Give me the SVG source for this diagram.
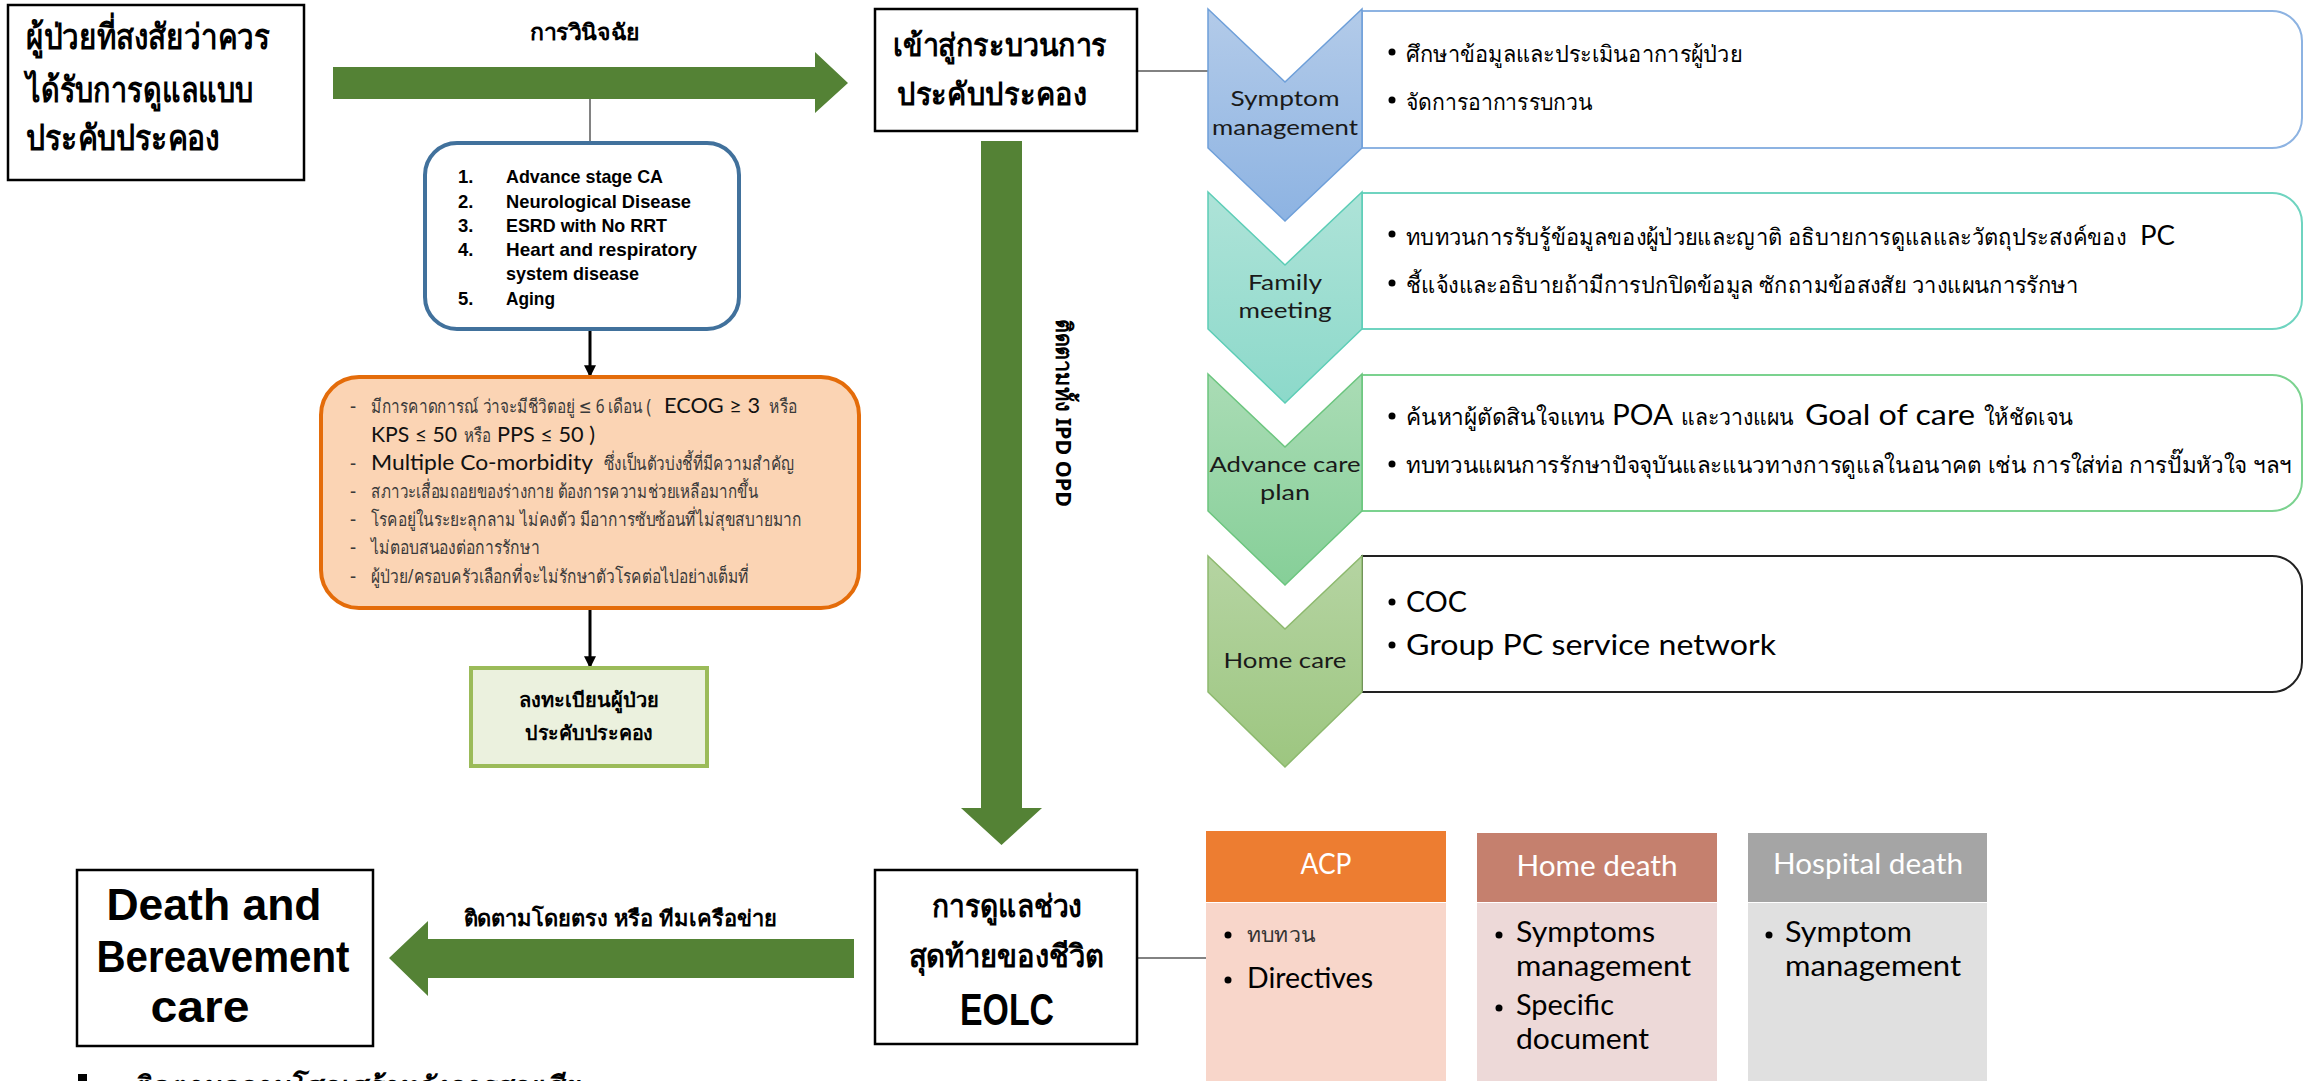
<svg xmlns="http://www.w3.org/2000/svg" width="2315" height="1081" viewBox="0 0 2315 1081">
<style>
.th{font-family:"Noto Sans","DejaVu Sans",sans-serif}
.en{font-family:"Liberation Sans Narrow","Liberation Sans",sans-serif}
.ui{font-family:Lato,"Open Sans",sans-serif}
.b{font-weight:bold}
.box{fill:#fff;stroke:#000;stroke-width:2.5}
.conn{stroke:#595959;stroke-width:1.5;fill:none}
.green{fill:#548235}
.blk{stroke:#000;stroke-width:3;fill:none}
.grey{fill:#3A3A3A}
.lbl{font-family:Lato,"Open Sans",sans-serif;font-size:22px;fill:#1a1a1a;text-anchor:middle}
</style>
<defs>
<marker id="ah" viewBox="0 0 10 10" refX="9" refY="5" markerWidth="4" markerHeight="4" orient="auto"><path d="M0,0 L10,5 L0,10 z" fill="#000"/></marker>
<linearGradient id="g1" x1="0" y1="0" x2="0" y2="1"><stop offset="0" stop-color="#B3CBE9"/><stop offset="1" stop-color="#8DB3E2"/></linearGradient>
<linearGradient id="g2" x1="0" y1="0" x2="0" y2="1"><stop offset="0" stop-color="#AEE3D8"/><stop offset="1" stop-color="#8CD9CA"/></linearGradient>
<linearGradient id="g3" x1="0" y1="0" x2="0" y2="1"><stop offset="0" stop-color="#AADCB5"/><stop offset="1" stop-color="#86CF98"/></linearGradient>
<linearGradient id="g4" x1="0" y1="0" x2="0" y2="1"><stop offset="0" stop-color="#B5D4A2"/><stop offset="1" stop-color="#9DC680"/></linearGradient>
</defs>

<g id="connectors">
<polygon class="green" points="333,67 815,67 815,52 848,83 815,113 815,99 333,99"/>
<polygon class="green" points="981,141 1022,141 1022,808 1042,808 1001.5,845 961,808 981,808"/>
<polygon class="green" points="854,939 428,939 428,921 389,958 428,996 428,978 854,978"/>
<line class="conn" x1="590" y1="99" x2="590" y2="143"/>
<line class="conn" x1="1137" y1="71" x2="1208" y2="71"/>
<line class="conn" x1="1137" y1="958" x2="1206" y2="958"/>
<line class="blk" x1="590" y1="330" x2="590" y2="376" marker-end="url(#ah)"/>
<line class="blk" x1="590" y1="609" x2="590" y2="667" marker-end="url(#ah)"/>
<text class="th b" x="585" y="40" font-size="22" text-anchor="middle" textLength="110" lengthAdjust="spacingAndGlyphs">การวินิจฉัย</text>
<text class="th b" x="620" y="926" font-size="22" text-anchor="middle" textLength="313" lengthAdjust="spacingAndGlyphs">ติดตามโดยตรง หรือ ทีมเครือข่าย</text>
<text class="th b" transform="translate(1056,413) rotate(90)" font-size="22" text-anchor="middle" textLength="188" lengthAdjust="spacingAndGlyphs">ติดตามทั้ง IPD OPD</text>
</g>

<g id="start">
<rect class="box" x="8" y="5" width="296" height="175"/>
<text class="th b" font-size="35" x="26" y="49" textLength="244" lengthAdjust="spacingAndGlyphs">ผู้ป่วยที่สงสัยว่าควร</text>
<text class="th b" font-size="35" x="26" y="102" textLength="227" lengthAdjust="spacingAndGlyphs">ได้รับการดูแลแบบ</text>
<text class="th b" font-size="35" x="26" y="150" textLength="194" lengthAdjust="spacingAndGlyphs">ประคับประคอง</text>
</g>

<g id="diseases">
<rect x="425" y="143" width="314" height="186" rx="32" fill="#fff" stroke="#41719C" stroke-width="4"/>
<g class="en b" font-size="18.5">
<text x="458" y="183">1.</text><text x="506" y="183" textLength="157" lengthAdjust="spacingAndGlyphs">Advance stage CA</text>
<text x="458" y="208">2.</text><text x="506" y="208" textLength="185" lengthAdjust="spacingAndGlyphs">Neurological  Disease</text>
<text x="458" y="232">3.</text><text x="506" y="232" textLength="161" lengthAdjust="spacingAndGlyphs">ESRD with No RRT</text>
<text x="458" y="256">4.</text><text x="506" y="256" textLength="191" lengthAdjust="spacingAndGlyphs">Heart and  respiratory</text>
<text x="506" y="280" textLength="133" lengthAdjust="spacingAndGlyphs">system disease</text>
<text x="458" y="305">5.</text><text x="506" y="305" textLength="49" lengthAdjust="spacingAndGlyphs">Aging</text>
</g>
</g>

<g id="criteria">
<rect x="321" y="377" width="538" height="231" rx="38" fill="#FBD4B4" stroke="#E46C0A" stroke-width="4"/>
<g class="th grey" font-size="19">
<text x="350" y="413">-</text>
<text x="371" y="413" textLength="280" lengthAdjust="spacingAndGlyphs">มีการคาดการณ์ ว่าจะมีชีวิตอยู่ ≤  6 เดือน (</text>
<text x="769" y="413" textLength="28" lengthAdjust="spacingAndGlyphs">หรือ</text>
<text x="464" y="442" textLength="27" lengthAdjust="spacingAndGlyphs">หรือ</text>
<text x="350" y="470">-</text>
<text x="604" y="470" textLength="190" lengthAdjust="spacingAndGlyphs">ซึ่งเป็นตัวบ่งชี้ที่มีความสำคัญ</text>
<text x="350" y="498">-</text>
<text x="371" y="498" textLength="387" lengthAdjust="spacingAndGlyphs">สภาวะเสื่อมถอยของร่างกาย ต้องการความช่วยเหลือมากขึ้น</text>
<text x="350" y="526">-</text>
<text x="371" y="526" textLength="431" lengthAdjust="spacingAndGlyphs">โรคอยู่ในระยะลุกลาม ไม่คงตัว มีอาการซับซ้อนที่ไม่สุขสบายมาก</text>
<text x="350" y="554">-</text>
<text x="371" y="554" textLength="169" lengthAdjust="spacingAndGlyphs">ไม่ตอบสนองต่อการรักษา</text>
<text x="350" y="583">-</text>
<text x="371" y="583" textLength="378" lengthAdjust="spacingAndGlyphs">ผู้ป่วย/ครอบครัวเลือกที่จะไม่รักษาตัวโรคต่อไปอย่างเต็มที่</text>
</g>
<g class="ui" font-size="22" fill="#111">
<text x="664" y="413" textLength="96" lengthAdjust="spacingAndGlyphs">ECOG  ≥ 3</text>
<text x="371" y="442" textLength="86" lengthAdjust="spacingAndGlyphs">KPS ≤ 50</text>
<text x="497" y="442" textLength="98" lengthAdjust="spacingAndGlyphs">PPS ≤ 50 )</text>
<text x="371" y="470" textLength="222" lengthAdjust="spacingAndGlyphs">Multiple Co-morbidity</text>
</g>
</g>

<g id="register">
<rect x="471" y="668" width="236" height="98" fill="#EBF1DE" stroke="#9BBB59" stroke-width="4"/>
<text class="th b" x="589" y="707" font-size="20" text-anchor="middle" textLength="140" lengthAdjust="spacingAndGlyphs">ลงทะเบียนผู้ป่วย</text>
<text class="th b" x="589" y="740" font-size="20" text-anchor="middle" textLength="128" lengthAdjust="spacingAndGlyphs">ประคับประคอง</text>
</g>

<g id="enter">
<rect class="box" x="875" y="9" width="262" height="122"/>
<text class="th b" font-size="31" x="893" y="56" textLength="214" lengthAdjust="spacingAndGlyphs">เข้าสู่กระบวนการ</text>
<text class="th b" font-size="31" x="897" y="105" textLength="190" lengthAdjust="spacingAndGlyphs">ประคับประคอง</text>
</g>

<g id="eolc">
<rect class="box" x="875" y="870" width="262" height="174"/>
<text class="th b" font-size="31" x="1007" y="917" text-anchor="middle" textLength="150" lengthAdjust="spacingAndGlyphs">การดูแลช่วง</text>
<text class="th b" font-size="31" x="1006" y="967" text-anchor="middle" textLength="195" lengthAdjust="spacingAndGlyphs">สุดท้ายของชีวิต</text>
<text class="en b" font-size="44" x="1007" y="1025" text-anchor="middle" textLength="94" lengthAdjust="spacingAndGlyphs">EOLC</text>
</g>

<g id="death">
<rect class="box" x="77" y="870" width="296" height="176"/>
<g class="en b" font-size="45" text-anchor="middle">
<text x="214" y="920" textLength="215" lengthAdjust="spacingAndGlyphs">Death and</text>
<text x="223" y="972" textLength="253" lengthAdjust="spacingAndGlyphs">Bereavement</text>
<text x="200" y="1022" textLength="99" lengthAdjust="spacingAndGlyphs">care</text>
</g>
</g>

<g id="bereavement-note">
<rect x="78" y="1074" width="9" height="12" fill="#000"/>
<text class="th b" x="131" y="1096" font-size="28" font-style="italic" text-decoration="underline">ติดตามความโศกเศร้าหลังการสูญเสีย</text>
</g>

<g id="symptom">
<path d="M1362,11 H2272 A30,30 0 0 1 2302,41 V118 A30,30 0 0 1 2272,148 H1362 Z" fill="#fff" stroke="#8DB3E2" stroke-width="2"/>
<path d="M1208,9 L1285,82 L1362,9 V148 L1285,221 L1208,148 Z" fill="url(#g1)" stroke="#6E9FD9" stroke-width="1.5"/>
<text class="lbl" x="1285" y="106" textLength="109" lengthAdjust="spacingAndGlyphs">Symptom</text>
<text class="lbl" x="1285" y="135" textLength="146" lengthAdjust="spacingAndGlyphs">management</text>
<circle cx="1392" cy="52" r="3.5" fill="#000"/>
<text class="th" x="1406" y="62" font-size="23" textLength="336" lengthAdjust="spacingAndGlyphs">ศึกษาข้อมูลและประเมินอาการผู้ป่วย</text>
<circle cx="1392" cy="100" r="3.5" fill="#000"/>
<text class="th" x="1406" y="110" font-size="23" textLength="187" lengthAdjust="spacingAndGlyphs">จัดการอาการรบกวน</text>
</g>

<g id="family">
<path d="M1362,193 H2272 A30,30 0 0 1 2302,223 V299 A30,30 0 0 1 2272,329 H1362 Z" fill="#fff" stroke="#6FD4C0" stroke-width="2"/>
<path d="M1208,192 L1285,265 L1362,192 V329 L1285,403 L1208,329 Z" fill="url(#g2)" stroke="#5CCDB6" stroke-width="1.5"/>
<text class="lbl" x="1285" y="290" textLength="74" lengthAdjust="spacingAndGlyphs">Family</text>
<text class="lbl" x="1285" y="318" textLength="93" lengthAdjust="spacingAndGlyphs">meeting</text>
<circle cx="1392" cy="234" r="3.5" fill="#000"/>
<text class="th" x="1406" y="245" font-size="23" textLength="720" lengthAdjust="spacingAndGlyphs">ทบทวนการรับรู้ข้อมูลของผู้ป่วยและญาติ  อธิบายการดูแลและวัตถุประสงค์ของ</text>
<text class="ui" x="2140" y="245" font-size="27" textLength="35" lengthAdjust="spacingAndGlyphs">PC</text>
<circle cx="1392" cy="283" r="3.5" fill="#000"/>
<text class="th" x="1406" y="293" font-size="23" textLength="672" lengthAdjust="spacingAndGlyphs">ชี้แจ้งและอธิบายถ้ามีการปกปิดข้อมูล  ซักถามข้อสงสัย  วางแผนการรักษา</text>
</g>

<g id="acp-plan">
<path d="M1362,375 H2272 A30,30 0 0 1 2302,405 V481 A30,30 0 0 1 2272,511 H1362 Z" fill="#fff" stroke="#7BD28F" stroke-width="2"/>
<path d="M1208,374 L1285,447 L1362,374 V511 L1285,585 L1208,511 Z" fill="url(#g3)" stroke="#6BC57E" stroke-width="1.5"/>
<text class="lbl" x="1285" y="472" textLength="151" lengthAdjust="spacingAndGlyphs">Advance care</text>
<text class="lbl" x="1285" y="500" textLength="50" lengthAdjust="spacingAndGlyphs">plan</text>
<circle cx="1392" cy="416" r="3.5" fill="#000"/>
<text class="th" x="1406" y="425" font-size="23" textLength="199" lengthAdjust="spacingAndGlyphs">ค้นหาผู้ตัดสินใจแทน</text>
<text class="ui" x="1612" y="425" font-size="28" textLength="61" lengthAdjust="spacingAndGlyphs">POA</text>
<text class="th" x="1681" y="425" font-size="23" textLength="113" lengthAdjust="spacingAndGlyphs">และวางแผน</text>
<text class="ui" x="1805" y="425" font-size="28" textLength="170" lengthAdjust="spacingAndGlyphs">Goal of care</text>
<text class="th" x="1984" y="425" font-size="23" textLength="89" lengthAdjust="spacingAndGlyphs">ให้ชัดเจน</text>
<circle cx="1392" cy="464" r="3.5" fill="#000"/>
<text class="th" x="1406" y="473" font-size="23" textLength="886" lengthAdjust="spacingAndGlyphs">ทบทวนแผนการรักษาปัจจุบันและแนวทางการดูแลในอนาคต  เช่น การใส่ท่อ การปั๊มหัวใจ ฯลฯ</text>
</g>

<g id="homecare">
<path d="M1362,556 H2272 A30,30 0 0 1 2302,586 V662 A30,30 0 0 1 2272,692 H1362 Z" fill="#fff" stroke="#222" stroke-width="2"/>
<path d="M1208,556 L1285,629 L1362,556 V692 L1285,767 L1208,692 Z" fill="url(#g4)" stroke="#8DB96E" stroke-width="1.5"/>
<text class="lbl" x="1285" y="668" textLength="123" lengthAdjust="spacingAndGlyphs">Home care</text>
<circle cx="1392" cy="602" r="3.5" fill="#000"/>
<text class="ui" x="1406" y="612" font-size="28" textLength="61" lengthAdjust="spacingAndGlyphs">COC</text>
<circle cx="1392" cy="645" r="3.5" fill="#000"/>
<text class="ui" x="1406" y="655" font-size="28" textLength="370" lengthAdjust="spacingAndGlyphs">Group PC service network</text>
</g>

<g id="acp">
<rect x="1206" y="903" width="240" height="178" fill="#F8D6CA"/>
<rect x="1206" y="831" width="240" height="71" fill="#ED7D31"/>
<text class="ui" x="1326" y="874" font-size="29" fill="#fff" text-anchor="middle" textLength="51" lengthAdjust="spacingAndGlyphs">ACP</text>
<circle cx="1228" cy="935" r="3.5" fill="#000"/>
<text class="th" x="1247" y="942" font-size="21" fill="#333" textLength="68" lengthAdjust="spacingAndGlyphs">ทบทวน</text>
<circle cx="1228" cy="980" r="3.5" fill="#000"/>
<text class="ui" x="1247" y="988" font-size="28" textLength="126" lengthAdjust="spacingAndGlyphs">Directives</text>
</g>

<g id="home-death">
<rect x="1477" y="903" width="240" height="178" fill="#EDD9D8"/>
<rect x="1477" y="833" width="240" height="69" fill="#C5806E"/>
<text class="ui" x="1597" y="876" font-size="29" fill="#fff" text-anchor="middle" textLength="161" lengthAdjust="spacingAndGlyphs">Home death</text>
<circle cx="1499" cy="935" r="3.5" fill="#000"/>
<text class="ui" x="1516" y="942" font-size="28" textLength="139" lengthAdjust="spacingAndGlyphs">Symptoms</text>
<text class="ui" x="1516" y="976" font-size="28" textLength="175" lengthAdjust="spacingAndGlyphs">management</text>
<circle cx="1499" cy="1008" r="3.5" fill="#000"/>
<text class="ui" x="1516" y="1015" font-size="28" textLength="98" lengthAdjust="spacingAndGlyphs">Specific</text>
<text class="ui" x="1516" y="1049" font-size="28" textLength="133" lengthAdjust="spacingAndGlyphs">document</text>
</g>

<g id="hospital-death">
<rect x="1748" y="903" width="239" height="178" fill="#E0E0E0"/>
<rect x="1748" y="833" width="239" height="69" fill="#A5A5A5"/>
<text class="ui" x="1868" y="874" font-size="29" fill="#fff" text-anchor="middle" textLength="190" lengthAdjust="spacingAndGlyphs">Hospital death</text>
<circle cx="1769" cy="935" r="3.5" fill="#000"/>
<text class="ui" x="1785" y="942" font-size="28" textLength="127" lengthAdjust="spacingAndGlyphs">Symptom</text>
<text class="ui" x="1785" y="976" font-size="28" textLength="176" lengthAdjust="spacingAndGlyphs">management</text>
</g>
</svg>
